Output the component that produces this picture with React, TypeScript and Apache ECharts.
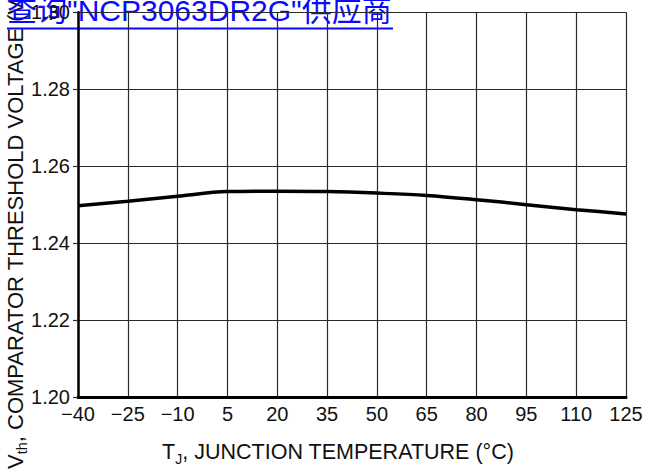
import React, { useEffect, useRef } from "react";
import * as echarts from "echarts";

const temperatures = ["\u221240", "\u221225", "\u221210", "5", "20", "35", "50", "65", "80", "95", "110", "125"];
const thresholdVoltage = [1.2497, 1.2509, 1.2522, 1.2534, 1.2535, 1.2534, 1.253, 1.2524, 1.2513, 1.25, 1.2487, 1.2476];
const yMin = 1.2;
const yMax = 1.3;
const yStep = 0.02;
const linkText = "查询\"NCP3063DR2G\"供应商";
const font = "'Liberation Sans', Arial, 'Noto Sans CJK SC', sans-serif";

export default function App() {
  const ref = useRef<HTMLDivElement>(null);
  useEffect(() => {
    document.body.style.margin = "0";
    if (!ref.current) return;
    const chart = echarts.init(ref.current, null, { renderer: "svg" });
    chart.setOption({
      animation: false,
      backgroundColor: "#fff",
      textStyle: { fontFamily: font },
      grid: { left: 78, right: 23, top: 12.3, bottom: 74, containLabel: false },
      xAxis: {
        type: "category",
        data: temperatures,
        boundaryGap: false,
        axisLine: { show: true, lineStyle: { color: "#000", width: 3 } },
        axisTick: { show: false },
        axisLabel: { interval: 0, color: "#111", fontSize: 20, margin: 7, fontFamily: font },
        splitLine: { show: true, interval: 0, lineStyle: { color: "#2a2a2a", width: 1.2 } },
      },
      yAxis: {
        type: "value",
        min: yMin,
        max: yMax,
        interval: yStep,
        axisLine: { show: true, lineStyle: { color: "#000", width: 2.5 } },
        axisTick: { show: true, length: 5, lineStyle: { color: "#2a2a2a", width: 1.2 } },
        axisLabel: { color: "#111", fontSize: 20, margin: 8, fontFamily: font, formatter: (v: number) => v.toFixed(2) },
        splitLine: { show: true, lineStyle: { color: "#2a2a2a", width: 1.2 } },
      },
      series: [
        {
          type: "line",
          data: thresholdVoltage,
          smooth: 0.35,
          showSymbol: false,
          symbol: "none",
          lineStyle: { color: "#000", width: 3.5 },
        },
      ],
      graphic: [
        {
          type: "text",
          x: 338,
          y: 452,
          style: {
            text: "{a|T}{b|J}{a|, JUNCTION TEMPERATURE (°C)}",
            align: "center",
            verticalAlign: "middle",
            fill: "#111",
            rich: {
              a: { fontSize: 21.5, fontFamily: font, fill: "#111", lineHeight: 27, verticalAlign: "middle" },
              b: { fontSize: 14, fontFamily: font, fill: "#111", lineHeight: 27, verticalAlign: "bottom" },
            },
          },
        },
        {
          type: "text",
          x: 15,
          y: 469,
          rotation: Math.PI / 2,
          style: {
            text: "{a|V}{b|th}{a|, COMPARATOR THRESHOLD VOLTAGE (V)}",
            align: "left",
            verticalAlign: "middle",
            fill: "#111",
            rich: {
              a: { fontSize: 22, fontFamily: font, fill: "#111", lineHeight: 29, verticalAlign: "middle" },
              b: { fontSize: 14.5, fontFamily: font, fill: "#111", lineHeight: 29, verticalAlign: "bottom" },
            },
          },
        },
        {
          type: "text",
          x: 7,
          y: 10,
          style: {
            text: linkText,
            align: "left",
            verticalAlign: "middle",
            fontSize: 30,
            fontFamily: font,
            fill: "#0a0aff",
          },
        },
        {
          type: "line",
          shape: { x1: 7, y1: 28.5, x2: 393, y2: 28.5 },
          style: { stroke: "#0a0aff", lineWidth: 2.2 },
        },
      ],
    });
    return () => chart.dispose();
  }, []);
  return <div ref={ref} style={{ width: 649, height: 471 }} />;
}
